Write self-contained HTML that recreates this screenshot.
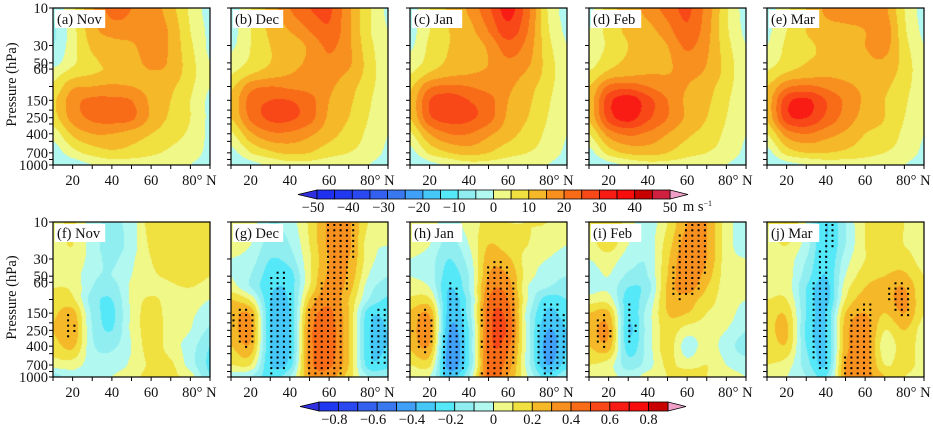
<!DOCTYPE html>
<html><head><meta charset="utf-8">
<style>
body{margin:0;background:#fff;width:933px;height:429px;overflow:hidden;position:relative;font-family:"Liberation Serif",serif}
canvas{position:absolute}
svg{position:absolute;left:0;top:0}
text{font-family:"Liberation Serif",serif;font-size:14.5px;fill:#111}
</style></head>
<body>
<div id="wrap"></div>
<svg id="ov" width="933" height="429"></svg>
<script>
const lats=[10,20,30,40,50,60,70,80,90];
const levels=[10,20,30,50,70,100,150,250,400,700,1000];
const monthNames=["Nov","Dec","Jan","Feb","Mar"];
const topLetters=["a","b","c","d","e"];
const botLetters=["f","g","h","i","j"];
const pTickVals=[10,30,50,60,100,150,200,250,300,400,500,700,850,1000];
const pTickLabels=[10,30,50,60,150,250,400,700,1000];
const latTicks=[10,20,30,40,50,60,70,80,90];
const latLabels=[20,40,60,80];
const topBarLabels=[-50,-40,-30,-20,-10,0,10,20,30,40,50];
const botBarLabels=[-0.8,-0.6,-0.4,-0.2,0,0.2,0.4,0.6,0.8];
const palette=["#2030f0","#2038f0","#2a48f0","#3460f0","#3a78f0","#40a0f8","#45c8f8","#55e8f8","#90eef0","#b0f8f0","#f0f888","#f0e040","#f5b828","#f89020","#f86c18","#f84818","#f81c14","#f80c0c","#c80000","#d02040"];
const lowColor="#3030e0", highColor="#f0a0c8";

const uNov=[[-4,4,14,22,20,18,12,4,-2],[-6,3,13,17,18,19,14,5,-1],[-5,3,11,13,14,19,14,6,-1],[-2,4,9,11,12,17,14,7,0],[3,8,10,11,12,14,13,7,1],[6,14,15,16,15,13,11,6,0],[9,18,21,21,20,14,10,5,-1],[8,17,21,22,21,14,9,5,-1],[2,11,15,15,13,10,7,4,-1],[-3,3,7,9,8,6,4,2,-1],[-5,-3,0,2,2,2,1,0,-2]];
const uDec=[[-3,5,12,20,25,26,16,6,-1],[-2,5,11,15,20,24,16,6,0],[-1,5,10,12,16,21,16,7,1],[2,6,10,13,16,19,16,8,1],[5,10,13,15,17,17,14,8,1],[9,18,20,19,18,16,12,7,1],[11,22,25,25,22,15,11,6,0],[10,21,26,26,22,14,10,5,0],[4,14,19,19,16,12,8,4,0],[-2,5,9,11,10,7,5,3,-1],[-5,-2,1,3,3,2,1,0,-3]];
const uJan=[[-3,5,11,16,24,32,22,5,-2],[-2,5,10,13,20,28,20,6,-1],[-1,6,10,12,16,23,18,7,0],[2,7,11,13,15,19,16,8,1],[5,11,14,15,16,17,14,8,1],[9,19,21,20,18,16,12,7,1],[11,25,28,25,22,15,11,6,0],[10,24,27,26,22,14,10,5,0],[4,15,20,20,16,12,8,4,0],[-2,6,10,12,10,7,5,3,-1],[-5,-2,1,3,3,2,1,0,-3]];
const uFeb=[[-2,8,12,17,22,26,18,6,-2],[0,7,11,13,18,24,17,6,-1],[1,6,10,11,15,21,16,7,0],[3,8,11,12,14,18,15,8,1],[6,12,14,15,15,16,14,8,1],[10,21,23,20,17,15,12,7,1],[12,28,33,27,20,14,11,6,0],[11,27,32,26,20,14,10,5,0],[5,17,21,19,15,11,8,4,0],[-2,7,11,12,10,7,5,3,-1],[-5,-2,1,3,3,2,1,0,-3]];
const uMar=[[-3,4,10,16,17,17,16,5,-2],[-1,5,10,13,14,15,18,6,-1],[0,6,9,11,13,15,17,7,0],[3,7,10,11,13,14,14,8,1],[6,11,13,14,14,14,12,8,1],[10,19,21,19,16,14,11,7,1],[12,28,31,25,19,14,10,6,0],[11,28,30,24,18,13,10,5,0],[5,17,20,17,14,10,8,4,0],[-2,7,10,10,9,7,5,3,-1],[-5,-2,0,2,2,2,1,0,-3]];

const rNov=[[0.05,0.12,-0.05,-0.12,-0.05,0.15,0.15,0.15,0.1],[0.05,0.1,-0.05,-0.15,-0.05,0.12,0.15,0.15,0.1],[0.02,0.08,-0.05,-0.12,-0.02,0.1,0.15,0.15,0.1],[0.05,0.05,-0.08,-0.1,0.0,0.08,0.12,0.15,0.1],[0.1,0.08,-0.1,-0.15,0.02,0.05,0.08,0.1,0.05],[0.12,0.12,-0.15,-0.2,0.02,0.12,0.05,0.05,0.0],[0.18,0.24,-0.12,-0.22,0.02,0.15,0.05,0.02,-0.05],[0.2,0.28,-0.1,-0.2,0.02,0.15,0.05,0.0,-0.12],[0.15,0.22,-0.08,-0.12,0.0,0.15,0.05,-0.05,-0.2],[0.05,0.05,-0.05,-0.05,0.02,0.12,0.12,-0.05,-0.22],[-0.15,-0.05,-0.08,0.0,0.05,0.15,0.12,0.05,-0.2]];
const rDec=[[0.05,0.05,-0.1,-0.05,0.12,0.32,0.32,0.1,0.05],[0.05,0.0,-0.15,-0.1,0.1,0.32,0.32,0.05,0.0],[0.0,-0.05,-0.2,-0.15,0.08,0.3,0.3,0.05,-0.05],[0.0,-0.1,-0.25,-0.25,0.08,0.32,0.28,0.0,-0.1],[0.05,-0.1,-0.28,-0.26,0.1,0.35,0.25,-0.05,-0.15],[0.2,0.08,-0.3,-0.28,0.2,0.38,0.2,-0.1,-0.22],[0.25,0.28,-0.3,-0.3,0.3,0.42,0.2,-0.25,-0.28],[0.25,0.32,-0.3,-0.3,0.35,0.45,0.2,-0.28,-0.3],[0.2,0.27,-0.3,-0.3,0.35,0.45,0.2,-0.28,-0.3],[0.1,0.1,-0.3,-0.25,0.35,0.42,0.2,-0.25,-0.25],[-0.05,-0.1,-0.25,-0.1,0.3,0.35,0.15,-0.1,-0.1]];
const rJan=[[0.05,0.05,-0.05,0.05,0.12,0.1,0.1,0.1,0.05],[0.05,0.0,-0.15,0.0,0.2,0.15,0.1,0.05,0.0],[0.0,-0.05,-0.2,-0.05,0.25,0.22,0.05,0.0,-0.05],[0.0,-0.05,-0.25,-0.1,0.3,0.3,0.05,-0.05,-0.1],[0.05,0.0,-0.3,-0.1,0.35,0.35,0.0,-0.1,-0.15],[0.12,0.12,-0.33,-0.15,0.4,0.4,0.0,-0.25,-0.2],[0.22,0.28,-0.35,-0.15,0.45,0.45,-0.05,-0.32,-0.25],[0.25,0.33,-0.4,-0.2,0.45,0.48,-0.05,-0.4,-0.3],[0.22,0.28,-0.45,-0.2,0.45,0.42,-0.05,-0.45,-0.3],[0.1,0.12,-0.45,-0.2,0.42,0.35,-0.05,-0.4,-0.25],[0.0,0.0,-0.35,-0.1,0.45,0.3,0.0,-0.25,-0.1]];
const rFeb=[[0.1,0.2,0.05,-0.05,0.1,0.3,0.3,0.05,-0.05],[0.05,0.15,0.0,-0.05,0.15,0.35,0.3,0.05,-0.05],[0.0,0.05,-0.05,-0.08,0.18,0.38,0.3,0.05,0.0],[-0.05,0.0,-0.12,-0.1,0.2,0.38,0.25,0.05,0.0],[-0.05,-0.02,-0.2,-0.15,0.22,0.35,0.2,0.05,0.0],[0.05,0.05,-0.25,-0.1,0.22,0.25,0.15,0.05,0.0],[0.2,0.22,-0.27,-0.05,0.2,0.2,0.1,0.05,-0.05],[0.25,0.3,-0.3,-0.05,0.15,0.05,0.05,0.0,-0.1],[0.2,0.25,-0.25,-0.05,0.15,-0.05,0.05,-0.05,-0.15],[0.1,0.05,-0.15,-0.05,0.12,0.05,0.1,0.0,-0.05],[0.0,0.05,-0.05,0.05,0.1,0.2,0.1,0.05,0.0]];
const rMar=[[0.1,0.2,0.0,-0.3,-0.1,0.1,0.15,0.1,0.05],[0.05,0.1,-0.05,-0.3,-0.1,0.1,0.15,0.1,0.05],[0.05,0.05,-0.1,-0.3,-0.05,0.1,0.15,0.15,0.05],[0.05,0.05,-0.15,-0.3,0.0,0.15,0.2,0.22,0.1],[0.05,0.05,-0.2,-0.35,0.05,0.2,0.25,0.3,0.1],[0.1,0.1,-0.2,-0.35,0.1,0.25,0.25,0.33,0.1],[0.15,0.18,-0.2,-0.3,0.2,0.3,0.2,0.3,0.1],[0.15,0.22,-0.22,-0.3,0.25,0.35,0.1,0.2,0.05],[0.12,0.18,-0.2,-0.3,0.25,0.35,0.05,0.15,0.05],[0.1,0.05,-0.15,-0.3,0.3,0.35,0.1,0.15,0.05],[0.0,0.0,-0.1,-0.2,0.3,0.35,0.2,0.1,0.05]];

const topGrids=[uNov,uDec,uJan,uFeb,uMar];
const botGrids=[rNov,rDec,rJan,rFeb,rMar];
const sigThreshold=0.26;

const NS="http://www.w3.org/2000/svg";
const ov=document.getElementById('ov');
const wrap=document.getElementById('wrap');
const panelX=[53,231,410,589,767], PW=157;
const rowsY=[{y:8,h:157},{y:222,h:155}];

function xScale(x0,lat){return x0+(lat-10)/80*PW;}
function yScale(y0,h,p){return y0+(Math.log10(p)-1)/2*h;}
function cr(p0,p1,p2,p3,t){return 0.5*((2*p1)+(-p0+p2)*t+(2*p0-5*p1+4*p2-p3)*t*t+(-p0+3*p1-3*p2+p3)*t*t*t);}
function rowAt(row,li){
  const n=row.length; let i=Math.floor(li); if(i>n-2)i=n-2; const t=li-i;
  const g=k=>row[Math.max(0,Math.min(n-1,k))];
  return cr(g(i-1),g(i),g(i+1),g(i+2),t);
}
function interp(grid,lat,p){
  let li=(lat-10)/10; li=Math.max(0,Math.min(8,li));
  const lp=Math.log10(p);
  let j=0; while(j<levels.length-2 && Math.log10(levels[j+1])<lp) j++;
  const a=Math.log10(levels[j]), b=Math.log10(levels[j+1]);
  let fy=Math.max(0,Math.min(1,(lp-a)/(b-a)));
  const n=grid.length; const g=k=>rowAt(grid[Math.max(0,Math.min(n-1,k))],li);
  return cr(g(j-1),g(j),g(j+1),g(j+2),fy);
}
function colorFor(v,isTop){
  let idx = isTop ? Math.floor((v+50)/5) : Math.floor((v+0.9)/0.1)+1;
  if(isTop){ if(idx<0) return lowColor; if(idx>19) return highColor; }
  else { if(idx<1) return lowColor; if(idx>18) return highColor; }
  return palette[idx];
}
function hexRgb(h){return [parseInt(h.substr(1,2),16),parseInt(h.substr(3,2),16),parseInt(h.substr(5,2),16)];}
function el(tag,attrs,parent){const e=document.createElementNS(NS,tag);for(const k in attrs)e.setAttribute(k,attrs[k]);(parent||ov).appendChild(e);return e;}

function drawPanel(r,c){
  const isTop=r===0, grid=isTop?topGrids[c]:botGrids[c];
  const x0=panelX[c], y0=rowsY[r].y, h=rowsY[r].h;
  const cv=document.createElement('canvas');
  cv.width=PW; cv.height=h; cv.style.left=x0+'px'; cv.style.top=y0+'px';
  
  
  wrap.appendChild(cv);
  const ctx=cv.getContext('2d'); const img=ctx.createImageData(PW,h);
  for(let py=0;py<h;py++){
    const p=Math.pow(10,1+(py+0.5)/h*2);
    for(let px=0;px<PW;px++){
      const lat=10+(px+0.5)/PW*80;
      const rgb=hexRgb(colorFor(interp(grid,lat,p),isTop));
      const k=(py*PW+px)*4; img.data[k]=rgb[0];img.data[k+1]=rgb[1];img.data[k+2]=rgb[2];img.data[k+3]=255;
    }
  }
  ctx.putImageData(img,0,0);
  const g=el('g',{});
  
  
  if(!isTop){
    for(let yy=y0+3;yy<y0+h-1;yy+=5.3){
      for(let xx=x0+2.5;xx<x0+PW-1;xx+=6.3){
        const lat=10+(xx-x0)/PW*80, p=Math.pow(10,1+(yy-y0)/h*2);
        if(Math.abs(interp(grid,lat,p))>=sigThreshold){
          const d=el('rect',{x:(xx-1).toFixed(1),y:(yy-1).toFixed(1),width:2,height:2,fill:'#000'},g);
          
          
        }
      }
    }
  }
  const fr=el('rect',{x:x0,y:y0,width:PW,height:h,fill:'none',stroke:'#000','stroke-width':1.2},g);
  
  
  pTickVals.forEach(p=>{const y=yScale(y0,h,p);el('line',{x1:x0-4,x2:x0,y1:y,y2:y,stroke:'#000','stroke-width':1},g);});
  if(c===0){
    pTickLabels.forEach(p=>{const t=el('text',{x:x0-5,y:yScale(y0,h,p)+5,'text-anchor':'end'},g);t.textContent=p;
      });
    const yt=el('text',{x:0,y:0,transform:`translate(16,${y0+h/2-2}) rotate(-90)`,'text-anchor':'middle'},g);
    yt.textContent='Pressure  (hPa)';
    
    
  }
  latTicks.forEach(l=>{const x=xScale(x0,l);el('line',{x1:x,x2:x,y1:y0+h,y2:y0+h+4,stroke:'#000','stroke-width':1},g);});
  latLabels.forEach(l=>{const t=el('text',{x:xScale(x0,l)+(l===80?9:0),y:y0+h+20,'text-anchor':'middle'},g);
    t.textContent=l===80?'80° N':l;
    });
  const lab='('+(isTop?topLetters[c]:botLetters[c])+') '+monthNames[c];
  el('rect',{x:x0+2,y:y0+2,width:lab.length*6.6+4,height:18,fill:'#fff'},g);
  const lt=el('text',{x:x0+4,y:y0+16},g); lt.textContent=lab;
  
  
}
for(let r=0;r<2;r++)for(let c=0;c<5;c++)drawPanel(r,c);

function colorbar(isTop){
  const bx0=isTop?317:319, bx1=isTop?670:668, by=isTop?190:402, bh=9;
  const n=isTop?20:18, lo=isTop?-50:-0.9, step=isTop?5:0.1;
  const g=el('g',{});
  
  
  const bw=(bx1-bx0)/n;
  el('polygon',{points:`${bx0},${by} ${bx0-19},${by+bh/2} ${bx0},${by+bh}`,fill:lowColor,stroke:'#000','stroke-width':0.8},g);
  el('polygon',{points:`${bx1},${by} ${bx1+18},${by+bh/2} ${bx1},${by+bh}`,fill:highColor,stroke:'#000','stroke-width':0.8},g);
  for(let i=0;i<n;i++){
    const b=el('rect',{x:bx0+i*bw,y:by,width:bw,height:bh,fill:palette[isTop?i:i+1],stroke:'#000','stroke-width':0.8},g);
    
    
  }
  const labs=isTop?topBarLabels:botBarLabels;
  labs.forEach(v=>{
    const x=bx0+(v-lo)/step*bw;
    const s=v===0?'0':(v<0?'\u2212':'')+(isTop?Math.abs(v):Math.abs(v).toFixed(1));
    const t=el('text',{x:x-(v<0?4:0),y:by+bh+13,'text-anchor':'middle'},g);t.textContent=s;
    
  });
  if(isTop){const u=el('text',{x:683,y:by+bh+12},g);u.innerHTML='m s<tspan dy="-5" font-size="8">−1</tspan>';
    }
}
colorbar(true);colorbar(false);
</script>
</body></html>
